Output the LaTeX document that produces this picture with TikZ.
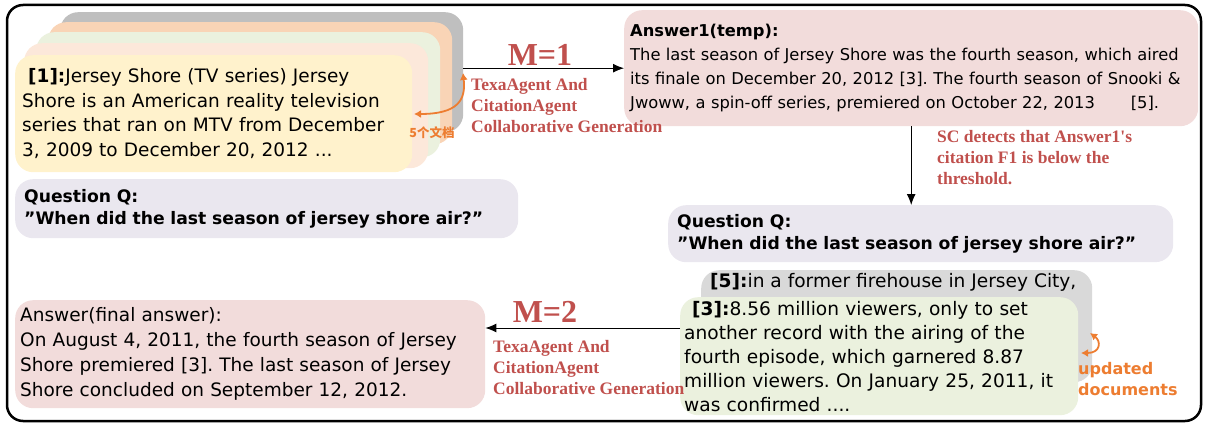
\documentclass[tikz,border=0pt]{standalone}
\usepackage{fontspec}
\setmainfont{DejaVu Sans}
\newfontfamily\labelfont{Liberation Serif}
\newfontfamily\cjkfont{Noto Sans CJK SC}
\usetikzlibrary{arrows.meta}
\frenchspacing

\definecolor{docyellow}{HTML}{FFF2CC}
\definecolor{docpink}{HTML}{FCE8DA}
\definecolor{docgreen}{HTML}{EBF1DE}
\definecolor{docpeach}{HTML}{F9D4B6}
\definecolor{docgray}{HTML}{BFBFBF}
\definecolor{docgraylight}{HTML}{D9D9D9}
\definecolor{anspink}{HTML}{F2DCDB}
\definecolor{qgray}{HTML}{EAE7EF}
\definecolor{labelred}{HTML}{C0504D}
\definecolor{arroworange}{HTML}{ED7D31}

\newcommand{\dq}{\symbol{34}}

\tikzset{
  panel/.style={rounded corners=18pt, inner sep=0pt, anchor=north west, align=left},
  redlabel/.style={text=labelred, font=\labelfont\bfseries\fontsize{17.5}{21}\selectfont, align=left, inner sep=0pt},
  bigM/.style={text=labelred, font=\labelfont\bfseries\fontsize{32}{32}\selectfont, inner sep=0pt},
  flow/.style={line width=1pt, -{Latex[length=11pt,width=9pt]}},
  orangearrow/.style={line width=1.8pt, draw=arroworange, {Latex[length=7pt,width=8pt]}-{Latex[length=7pt,width=8pt]}},
}

\begin{document}
\begin{tikzpicture}[x=1pt, y=-1pt]
    \useasboundingbox (0,0) rectangle (1206,425);
    % frame
    \draw [line width=2.5pt, rounded corners=16pt] (7,5) rectangle (1201,421);
    % retrieved documents (stack)
    \node [panel, fill=docgray, minimum width=403pt, minimum height=120pt] (layer4) at (60,12) {};
    \node [panel, fill=docpeach, minimum width=404pt, minimum height=122pt] (layer3) at (48,22) {};
    \node [panel, fill=docgreen, minimum width=404pt, minimum height=125pt] (layer2) at (36,32) {};
    \node [panel, fill=docpink, minimum width=404pt, minimum height=125pt] (layer1) at (24,43) {};
    \node [panel, fill=docyellow, minimum width=397pt, minimum height=117pt, text width=383pt, inner xsep=7pt,
           font=\fontsize{18.5}{24.5}\selectfont] (doc1) at (15,55)
      {\hspace{6pt}\textbf{[1]:}Jersey Shore (TV series) Jersey\\
       Shore is an American reality television\\
       series that ran on MTV from December\\
       3, 2009 to December 20, 2012 ...};
    \coordinate (fiveA) at (414,114);
    \coordinate (fiveB) at (463,73);
    \draw [orangearrow] (fiveA) .. controls (458,114) and (466,100) .. (fiveB);
    \node [text=arroworange, font=\cjkfont\bfseries\fontsize{12.5}{12.5}\selectfont, inner sep=0pt] (five) at (432,133) {5个文档};
    % question (left)
    \node [panel, fill=qgray, minimum width=495pt, minimum height=59pt, text width=485pt, inner xsep=9pt,
           font=\bfseries\fontsize{17.2}{22}\selectfont] (q1) at (15,179)
      {Question Q:\\ \dq When did the last season of jersey shore air?\dq};
    % first answer
    \node [panel, fill=anspink, minimum width=574pt, minimum height=116pt, text width=562pt, inner xsep=6pt,
           font=\fontsize{16.3}{24}\selectfont] (ans1) at (624,10)
      {\textbf{Answer1(temp):}\\
       The last season of Jersey Shore was the fourth season, which aired\\
       its finale on December 20, 2012 [3]. The fourth season of Snooki \&\\
       Jwoww, a spin-off series, premiered on October 22, 2013\hspace{2.2em}[5].};
    \draw [flow] (layer4.east |- ans1.west) -- (ans1.west);
    \node [bigM] (m1) at (540,55) {M=1};
    \node [redlabel, anchor=north west] (gen1) at (471,78)
      {TexaAgent And\\ CitationAgent\\ Collaborative Generation};
    % question (right)
    \node [panel, fill=qgray, minimum width=497pt, minimum height=57pt, text width=487pt, inner xsep=9pt,
           font=\bfseries\fontsize{17.2}{22}\selectfont] (q2) at (668,205)
      {Question Q:\\ \dq When did the last season of jersey shore air?\dq};
    \draw [flow] (ans1.south) -- (ans1.south |- q2.north);
    \node [redlabel, anchor=north west] (sc) at (937,130)
      {SC detects that Answer1's\\ citation F1 is below the\\ threshold.};
    % updated documents
    \node [panel, fill=docgraylight, minimum width=391pt, minimum height=112pt] (doc5) at (701,270) {};
    \node [anchor=north west, inner sep=0pt, font=\fontsize{18.6}{24}\selectfont] (doc5txt) at (710,273)
      {\textbf{[5]:}in a former firehouse in Jersey City,};
    \node [panel, fill=docgreen, minimum width=398pt, minimum height=118pt, text width=390pt, inner xsep=4pt,
           font=\fontsize{18.6}{24}\selectfont] (doc3) at (680,297)
      {\hspace{8pt}\textbf{[3]:}8.56 million viewers, only to set\\
       another record with the airing of the\\
       fourth episode, which garnered 8.87\\
       million viewers. On January 25, 2011, it\\
       was confirmed ....};
    \coordinate (updA) at (1081,353);
    \coordinate (updB) at (1090,333);
    \draw [orangearrow] (updA) .. controls (1101,353) and (1101,341) .. (updB);
    \node [text=arroworange, font=\bfseries\fontsize{16}{21}\selectfont, align=left, inner sep=0pt, anchor=north west] (upd) at (1078,362)
      {updated\\ documents};
    % final answer
    \node [panel, fill=anspink, minimum width=470pt, minimum height=108pt, text width=460pt, inner xsep=5pt,
           font=\fontsize{18.5}{25}\selectfont] (final) at (15,300)
      {Answer(final answer):\\
       On August 4, 2011, the fourth season of Jersey\\
       Shore premiered [3]. The last season of Jersey\\
       Shore concluded on September 12, 2012.};
    \coordinate (m2row) at (0,328);
    \draw [flow] (doc3.west |- m2row) -- (final.east |- m2row);
    \node [bigM] (m2) at (545,312) {M=2};
    \node [redlabel, anchor=north west] (gen2) at (493,340)
      {TexaAgent And\\ CitationAgent\\ Collaborative Generation};
\end{tikzpicture}
\end{document}
